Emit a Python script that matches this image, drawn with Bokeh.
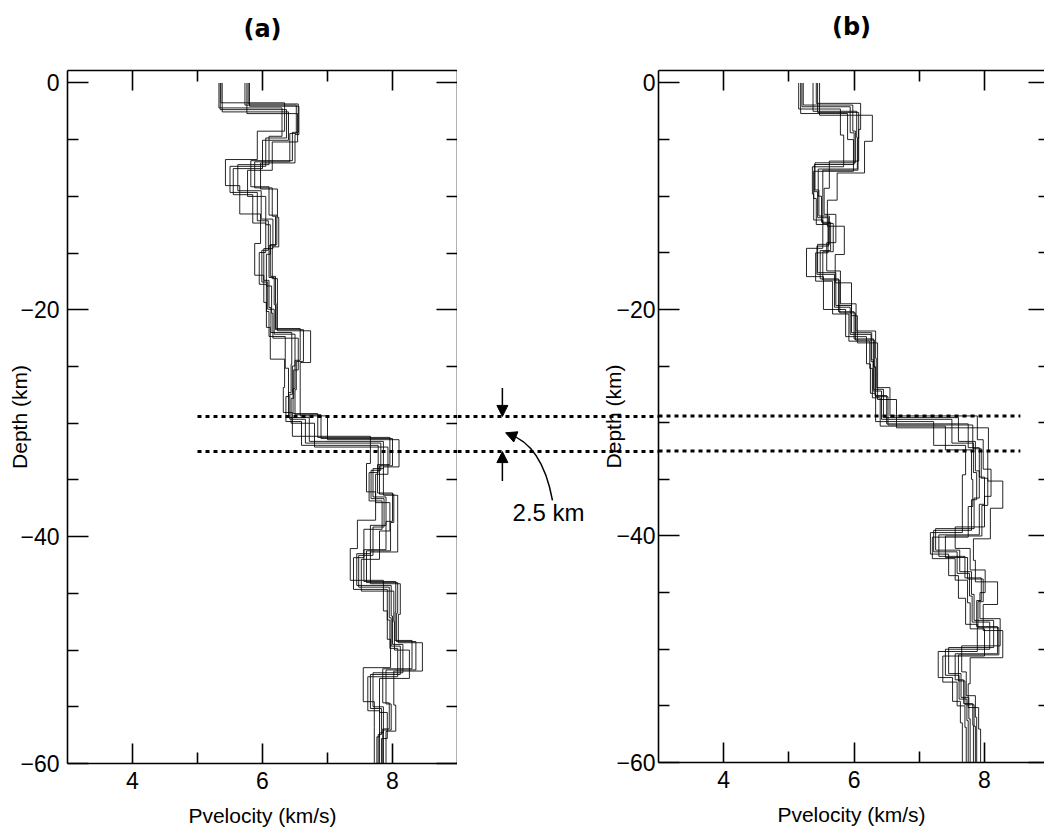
from bokeh.plotting import figure
from bokeh.layouts import row
from bokeh.models import LinearAxis, FixedTicker, Range1d, Arrow, NormalHead
from bokeh.core.properties import value
from bokeh.embed import file_html
from bokeh.resources import INLINE

# ------------------------------------------------------------------ data
x_ticks = [4, 6, 8]
x_minor = [5, 7]
depth_ticks = [0, -20, -40, -60]
depth_minor = [-5, -10, -15, -25, -30, -35, -45, -50, -55]
model_bottom = -60

# panel (a): layer tops (km) and velocities (km/s) of the ensemble members
tops_a = [0, -2.2, -4.7, -7.2, -9.5, -12.0, -14.6, -17.4, -19.8, -22.0, -24.8, -27.3,
          -29.5, -31.6, -34.0, -36.5, -39.0, -41.5, -44.3, -47.0, -49.5, -52.0, -55.0, -57.3]
vp_a1 = [5.33, 6.30, 6.10, 5.62, 5.98, 6.16, 6.02, 6.10, 6.13, 6.45, 6.44, 6.40,
         6.72, 7.86, 7.70, 7.90, 7.66, 7.45, 7.98, 8.00, 8.16, 7.70, 7.86, 7.80]
vp_a2 = [5.36, 6.34, 5.92, 5.43, 5.65, 5.97, 5.88, 6.02, 6.06, 6.12, 6.34, 6.32,
         6.46, 7.66, 7.60, 7.74, 7.46, 7.35, 7.86, 7.92, 7.97, 7.55, 7.72, 7.72]
vp_a3 = [5.38, 6.40, 6.00, 5.55, 5.85, 6.05, 5.95, 6.06, 6.10, 6.35, 6.40, 6.36,
         6.60, 7.78, 7.64, 7.84, 7.56, 7.40, 7.92, 7.96, 8.08, 7.62, 7.80, 7.76]
vp_a4 = [5.73, 6.52, 6.42, 5.88, 6.15, 6.20, 6.10, 6.18, 6.20, 6.63, 6.52, 6.50,
         6.90, 8.00, 7.80, 8.02, 7.97, 7.60, 8.08, 8.06, 8.36, 7.90, 7.98, 7.86]
vp_a5 = [5.76, 6.54, 6.15, 5.77, 6.05, 6.12, 6.06, 6.14, 6.16, 6.55, 6.48, 6.44,
         6.80, 7.93, 7.74, 7.96, 7.80, 7.52, 8.02, 8.03, 8.26, 7.80, 7.92, 7.83]
vp_a6 = [5.80, 6.56, 6.50, 5.97, 6.23, 6.25, 6.15, 6.23, 6.23, 6.74, 6.58, 6.58,
         7.00, 8.10, 7.86, 8.08, 8.08, 7.66, 8.12, 8.09, 8.46, 8.02, 8.05, 7.90]
vp_a7 = [5.35, 6.37, 6.05, 5.50, 5.92, 6.09, 5.99, 6.08, 6.18, 6.50, 6.46, 6.42,
         6.66, 7.82, 7.67, 7.87, 7.70, 7.48, 7.95, 7.98, 8.12, 7.66, 7.83, 7.78]
vp_a8 = [5.78, 6.55, 6.46, 5.82, 6.10, 6.22, 6.12, 6.20, 6.21, 6.58, 6.50, 6.47,
         6.85, 7.96, 7.77, 8.00, 7.90, 7.56, 8.05, 8.04, 8.30, 7.85, 7.95, 7.85]
shift_a = [0.0, 0.45, -0.35, 0.25, -0.5, 0.15, -0.15, 0.35]

# panel (b)
tops_b = [0, -2.3, -4.6, -7.4, -9.8, -12.1, -14.6, -17.1, -20.0, -22.4, -24.8, -27.4,
          -29.9, -32.0, -34.6, -37.0, -39.7, -41.6, -43.5, -45.5, -47.8, -50.2, -52.5, -54.6, -56.5]
vp_b1 = [5.15, 5.79, 5.84, 5.36, 5.38, 5.52, 5.27, 5.53, 5.87, 6.19, 6.25, 6.33,
         7.22, 7.71, 7.66, 7.66, 7.17, 7.45, 7.60, 7.71, 7.89, 7.29, 7.51, 7.63, 7.66]
vp_b2 = [5.18, 5.90, 5.99, 5.38, 5.42, 5.60, 5.41, 5.67, 5.92, 6.24, 6.28, 6.40,
         7.40, 7.80, 7.82, 7.75, 7.20, 7.55, 7.74, 7.78, 8.00, 7.36, 7.58, 7.70, 7.72]
vp_b3 = [5.22, 5.98, 6.02, 5.40, 5.46, 5.62, 5.44, 5.72, 5.96, 6.27, 6.30, 6.45,
         7.60, 7.86, 7.92, 7.84, 7.25, 7.62, 7.80, 7.84, 8.14, 7.45, 7.64, 7.76, 7.78]
vp_b4 = [5.37, 6.04, 6.05, 5.45, 5.50, 5.64, 5.48, 5.76, 6.00, 6.30, 6.32, 6.50,
         7.75, 7.92, 8.00, 7.92, 7.30, 7.70, 7.95, 7.88, 8.20, 7.55, 7.68, 7.82, 7.83]
vp_b5 = [5.42, 6.10, 6.07, 5.62, 5.54, 5.72, 5.58, 5.79, 6.03, 6.33, 6.34, 6.55,
         7.89, 7.98, 8.10, 8.00, 7.55, 7.78, 8.01, 7.93, 8.24, 7.65, 7.72, 7.86, 7.88]
vp_b6 = [5.47, 6.28, 6.16, 5.74, 5.59, 5.85, 5.71, 5.96, 6.05, 6.36, 6.36, 6.65,
         8.06, 8.05, 8.28, 8.09, 7.83, 7.86, 8.20, 7.98, 8.28, 7.78, 7.75, 7.91, 7.94]
vp_b7 = [5.20, 5.94, 6.00, 5.39, 5.44, 5.61, 5.43, 5.70, 5.94, 6.26, 6.29, 6.42,
         7.50, 7.83, 7.88, 7.80, 7.22, 7.58, 7.77, 7.81, 8.08, 7.40, 7.61, 7.73, 7.75]
vp_b8 = [5.44, 6.07, 6.06, 5.52, 5.52, 5.68, 5.52, 5.78, 6.02, 6.31, 6.33, 6.52,
         7.82, 7.95, 8.05, 7.96, 7.40, 7.74, 7.98, 7.90, 8.22, 7.60, 7.70, 7.84, 7.86]
shift_b = [0.0, -0.4, 0.35, -0.2, 0.5, -0.55, 0.2, -0.3]

# transition zone (dotted lines) and annotation
transition_depths = [-29.4, -32.5]
dotted_start_a = 5.0
dotted_end_b = 8.55
gap_label = "2.5 km"

# ------------------------------------------------------------------ helpers
TICK_FONT = "'Liberation Sans', Arial, sans-serif"
LABEL_FONT = "'Liberation Sans', Arial, sans-serif"


def step_path(tops, vels, shift):
    bounds = [tops[0]] + [t + shift for t in tops[1:]] + [model_bottom]
    xs, ys = [], []
    for i, v in enumerate(vels):
        xs += [v, v]
        ys += [bounds[i], bounds[i + 1]]
    return xs, ys


def style_axis(ax, major_len, minor_len, labels=True, line=True):
    ax.major_tick_in = major_len
    ax.major_tick_out = 0
    ax.minor_tick_in = minor_len
    ax.minor_tick_out = 0
    ax.axis_line_width = 1.6
    ax.major_tick_line_width = 1.6
    ax.minor_tick_line_width = 1.6
    ax.axis_line_color = "black" if line else None
    ax.major_tick_line_color = "black"
    ax.minor_tick_line_color = "black"
    ax.axis_label_text_color = "black"
    if labels:
        ax.major_label_text_font = TICK_FONT
        ax.major_label_text_font_size = "23px"
        ax.major_label_text_color = "black"
        ax.axis_label_text_font = LABEL_FONT
        ax.axis_label_text_font_size = "21px"
        ax.axis_label_text_font_style = "normal"
    else:
        ax.major_label_text_font_size = "0px"
        ax.major_label_text_color = None
        ax.major_label_standoff = 0


def make_panel(title, tops, members, shifts, x_end, fw, fh, top, bottom, left,
               right_line, ylab_standoff, ylab_label_standoff, title_standoff):
    p = figure(frame_width=fw, frame_height=fh, min_border_left=left, min_border_right=0,
               min_border_top=top, min_border_bottom=bottom,
               x_range=Range1d(3, x_end), y_range=Range1d(-60, 1.1),
               output_backend="svg", toolbar_location=None)
    p.outline_line_color = None
    p.grid.visible = False
    p.background_fill_color = "white"
    p.border_fill_color = None

    xs, ys = [], []
    for vels, sh in zip(members, shifts):
        x, y = step_path(tops, vels, sh)
        xs.append(x)
        ys.append(y)
    p.multi_line(xs=xs, ys=ys, line_color="black", line_width=1, line_alpha=0.85)

    xa = p.xaxis[0]
    xa.ticker = FixedTicker(ticks=x_ticks, minor_ticks=x_minor)
    xa.axis_label = "Pvelocity (km/s)"
    style_axis(xa, 20, 11)
    xa.major_label_standoff = 8
    xa.axis_label_standoff = 12

    ya = p.yaxis[0]
    ya.ticker = FixedTicker(ticks=depth_ticks, minor_ticks=depth_minor)
    ya.axis_label = "Depth (km)"
    style_axis(ya, 21, 11)
    ya.major_label_overrides = {t: str(t).replace("-", "\u2212") for t in depth_ticks}
    ya.major_label_standoff = ylab_standoff
    ya.axis_label_standoff = ylab_label_standoff

    top_ax = LinearAxis(ticker=FixedTicker(ticks=x_ticks, minor_ticks=x_minor))
    style_axis(top_ax, 20, 11, labels=False)
    top_ax.axis_label = title
    top_ax.axis_label_text_font = "DejaVu Sans"
    top_ax.axis_label_text_font_size = "24px"
    top_ax.axis_label_text_font_style = "bold"
    top_ax.axis_label_standoff = title_standoff
    p.add_layout(top_ax, "above")

    right_ax = LinearAxis(ticker=FixedTicker(ticks=depth_ticks, minor_ticks=depth_minor))
    if right_line:
        style_axis(right_ax, 21, 11, labels=False)
    else:
        style_axis(right_ax, 16, 6, labels=False, line=False)
    p.add_layout(right_ax, "right")
    return p


pa = make_panel("(a)", tops_a, [vp_a1, vp_a2, vp_a3, vp_a4, vp_a5, vp_a6, vp_a7, vp_a8],
                shift_a, 9, 390, 693, 67, 76, 67, True, 8, -14, 28)
pb = make_panel("(b)", tops_b, [vp_b1, vp_b2, vp_b3, vp_b4, vp_b5, vp_b6, vp_b7, vp_b8],
                shift_b, 8.92, 386, 692, 70, 74, 63, False, 3, -12, 30)
pb.margin = (0, 0, 0, -63)   # let panel (b)'s axis area overlap the middle strip

# middle strip between the panels (continues panel (a)'s scales)
pm = figure(frame_width=201, frame_height=693, min_border_left=0, min_border_right=0,
            min_border_top=67, min_border_bottom=76,
            x_range=Range1d(9, 12.09), y_range=Range1d(-60, 1.1),
            x_axis_location=None, y_axis_location=None,
            output_backend="svg", toolbar_location=None)
pm.outline_line_color = None
pm.grid.visible = False
pm.background_fill_color = "white"
pm.border_fill_color = "white"

DOT = dict(line_color="black", line_width=3, line_dash="4 4")
for d in transition_depths:
    pa.segment(x0=dotted_start_a, y0=d, x1=9.0, y1=d, **DOT)
    pm.segment(x0=9.0, y0=d, x1=12.2, y1=d, **DOT)
    pb.segment(x0=3.0, y0=d, x1=dotted_end_b, y1=d, **DOT)

# arrows marking the transition thickness
head = dict(size=11, fill_color="black", line_color="black")
pm.add_layout(Arrow(end=NormalHead(**head), x_start=9.69, y_start=-26.9,
                    x_end=9.69, y_end=transition_depths[0], line_width=1.5))
pm.add_layout(Arrow(end=NormalHead(**head), x_start=9.69, y_start=-35.1,
                    x_end=9.69, y_end=transition_depths[1], line_width=1.5))
pm.quadratic(x0=[10.46], y0=[-36.8], x1=[9.76], y1=[-30.9], cx=[10.3], cy=[-31.8],
             line_color="black", line_width=1.5)
pm.add_layout(Arrow(end=NormalHead(**head), x_start=9.80, y_start=-30.98,
                    x_end=9.74, y_end=-30.84, line_width=1.5))
pm.text(x=[10.4], y=[-37.9], text=[gap_label], text_align="center", text_baseline="middle",
        text_font=value("Liberation Sans"), text_font_size="24px", text_color="black")

layout = row(pa, pm, pb, spacing=0)
open("out.html", "w").write(file_html(layout, INLINE))
